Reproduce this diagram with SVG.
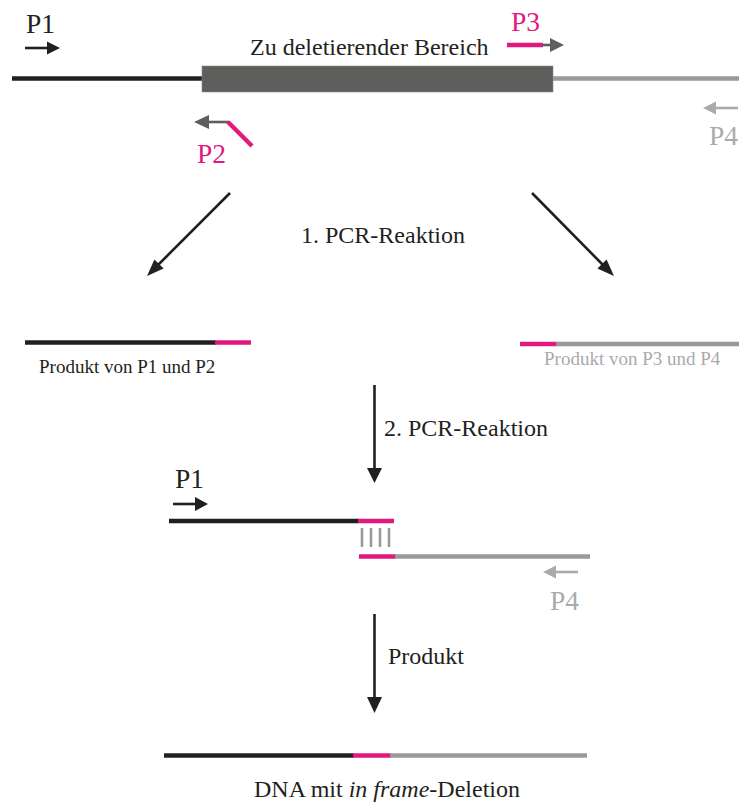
<svg xmlns="http://www.w3.org/2000/svg" width="739" height="802" viewBox="0 0 739 802">
<style>
text{font-family:"Liberation Serif","Times New Roman",serif;}
.lbl{font-size:24px;fill:#231f20;}
.pl{font-size:27.5px;}
.blk{stroke:#231f20;stroke-width:4.5;fill:none;}
.mag{stroke:#e2187f;stroke-width:4.5;fill:none;}
.gry{stroke:#999999;stroke-width:4.5;fill:none;}
.arr{stroke:#231f20;stroke-width:2.6;fill:none;}
.darr{stroke:#5f5e5c;stroke-width:2.6;fill:none;}
.larr{stroke:#aaaaaa;stroke-width:2.6;fill:none;}
.hb{fill:#231f20;}
.hd{fill:#5f5e5c;}
.hl{fill:#aaaaaa;}
</style>
<rect width="739" height="802" fill="#ffffff"/>
<g id="template">
<line class="blk" x1="12" y1="78.5" x2="203" y2="78.5"/>
<rect x="202" y="66" width="351" height="26" fill="#5f5e5c" stroke="#8a8a8a" stroke-width="0.6"/>
<line class="gry" x1="553" y1="78.5" x2="739" y2="78.5"/>
<text class="lbl" x="250" y="55">Zu deletierender Bereich</text>
</g>
<g id="P1-top">
<text class="pl" x="26" y="32.5" fill="#231f20">P1</text>
<line class="arr" x1="25" y1="48" x2="48" y2="48"/>
<polygon class="hb" points="47,41.5 60,48 47,54.5"/>
</g>
<g id="P3">
<text class="pl" x="511" y="30.5" fill="#e2187f">P3</text>
<line class="mag" x1="507" y1="45" x2="543" y2="45"/>
<line class="darr" x1="542" y1="45" x2="551" y2="45"/>
<polygon class="hd" points="550,38 564,45 550,52"/>
</g>
<g id="P2">
<polygon class="hd" points="194,122 209,115 209,129"/>
<line class="darr" x1="208" y1="122" x2="229" y2="122"/>
<line class="mag" x1="228" y1="122" x2="252" y2="146"/>
<text class="pl" x="197" y="162.5" fill="#e2187f">P2</text>
</g>
<g id="P4-top">
<polygon class="hl" points="703,108 716,101.5 716,114.5"/>
<line class="larr" x1="715" y1="108" x2="738" y2="108"/>
<text class="pl" x="709" y="145" fill="#aaaaaa">P4</text>
</g>
<g id="connectors">
<line class="arr" x1="230" y1="193" x2="157" y2="266"/>
<polygon class="hb" points="147,276 163.6,268.6 154.4,259.4"/>
<line class="arr" x1="532" y1="193" x2="604" y2="266"/>
<polygon class="hb" points="614,276 597.4,268.6 606.6,259.4"/>
<line class="arr" x1="374.5" y1="385" x2="374.5" y2="470" stroke-width="3"/>
<polygon class="hb" points="367,468 382,468 374.5,483"/>
<line class="arr" x1="374.5" y1="614" x2="374.5" y2="699" stroke-width="3"/>
<polygon class="hb" points="367,697 382,697 374.5,713"/>
</g>
<g id="label-pcr1"><text class="lbl" x="301" y="243" font-size="25">1. PCR-Reaktion</text></g>
<g id="label-pcr2"><text class="lbl" x="384" y="436">2. PCR-Reaktion</text></g>
<g id="label-produkt"><text class="lbl" x="388" y="664">Produkt</text></g>
<g id="product-P1P2">
<line class="blk" x1="25" y1="342.5" x2="216" y2="342.5"/>
<line class="mag" x1="215" y1="342.5" x2="251" y2="342.5"/>
<text x="39" y="373" font-size="19" fill="#231f20">Produkt von P1 und P2</text>
</g>
<g id="product-P3P4">
<line class="mag" x1="520" y1="344" x2="557" y2="344"/>
<line class="gry" x1="556" y1="344" x2="739" y2="344"/>
<text x="544" y="365" font-size="19" fill="#aaaaaa">Produkt von P3 und P4</text>
</g>
<g id="hybrid">
<text class="pl" x="175" y="488" fill="#231f20">P1</text>
<line class="arr" x1="173" y1="504" x2="196" y2="504"/>
<polygon class="hb" points="195,497 208,504 195,511"/>
<line class="blk" x1="169" y1="521" x2="359" y2="521"/>
<line class="mag" x1="358" y1="521" x2="394" y2="521"/>
<g stroke="#999999" stroke-width="2.6">
<line x1="362" y1="528" x2="362" y2="547"/>
<line x1="371" y1="528" x2="371" y2="547"/>
<line x1="380" y1="528" x2="380" y2="547"/>
<line x1="389" y1="528" x2="389" y2="547"/>
</g>
<line class="mag" x1="359" y1="556.5" x2="396" y2="556.5"/>
<line class="gry" x1="395" y1="556.5" x2="590" y2="556.5"/>
<polygon class="hl" points="543,572 556,565.5 556,578.5"/>
<line class="larr" x1="555" y1="572" x2="578" y2="572"/>
<text class="pl" x="550" y="610" fill="#aaaaaa">P4</text>
</g>
<g id="final-product">
<line class="blk" x1="164" y1="755.5" x2="354" y2="755.5"/>
<line class="mag" x1="353" y1="755.5" x2="391" y2="755.5"/>
<line class="gry" x1="390" y1="755.5" x2="587" y2="755.5"/>
<text class="lbl" x="254" y="797">DNA mit <tspan font-style="italic">in frame</tspan>-Deletion</text>
</g>
</svg>
